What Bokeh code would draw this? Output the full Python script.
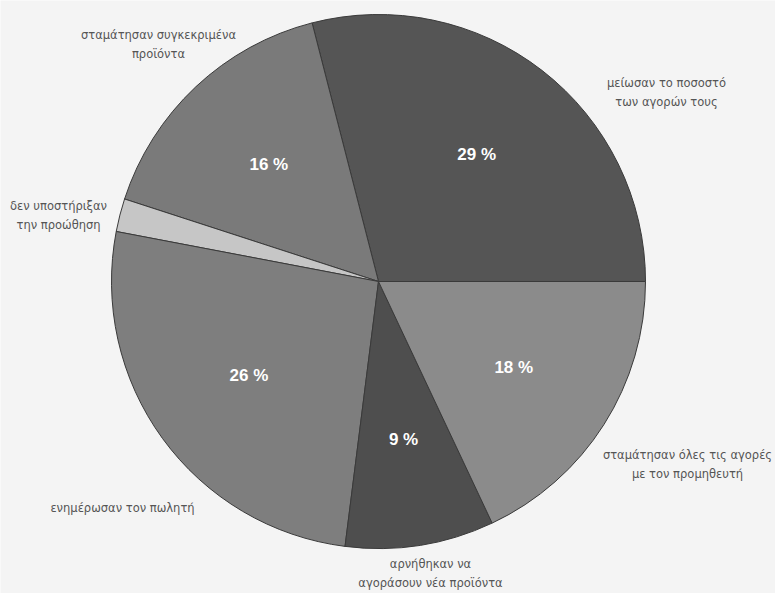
import numpy as np
from bokeh.plotting import figure
from bokeh.models import ColumnDataSource, Range1d
from bokeh.core.properties import value
from bokeh.embed import file_html
from bokeh.resources import INLINE

# ---- data ----
categories = [
    "μείωσαν το ποσοστό\nτων αγορών τους",
    "σταμάτησαν συγκεκριμένα\nπροϊόντα",
    "δεν υποστήριξαν\nτην προώθηση",
    "ενημέρωσαν τον πωλητή",
    "αρνήθηκαν να\nαγοράσουν νέα προϊόντα",
    "σταμάτησαν όλες τις αγορές\nμε τον προμηθευτή",
]
percents = [29, 16, 2, 26, 9, 18]
show_pct = [True, True, False, True, True, True]
colors = ["#555555", "#7a7a7a", "#c6c6c6", "#7e7e7e", "#4e4e4e", "#8b8b8b"]

# ---- layout (pixel space, y measured from top) ----
W, H = 775, 593
cx, cy, R = 378, 281, 267
label_xy = [(666, 92), (158, 44), (58, 215), (122, 507), (430, 573), (687, 464)]

p = figure(width=W, height=H, output_backend="svg", toolbar_location=None,
           x_range=Range1d(0, W), y_range=Range1d(0, H), min_border=0)
p.axis.visible = False
p.grid.visible = False
p.outline_line_color = None
p.background_fill_color = "#f4f4f4"
p.border_fill_color = "#f4f4f4"

vals = np.array(percents, dtype=float)
ends = np.cumsum(vals) / vals.sum() * 2 * np.pi
starts = np.concatenate([[0.0], ends[:-1]])
mids = (starts + ends) / 2

src = ColumnDataSource(dict(start=starts, end=ends, color=colors))
p.wedge(x=cx, y=H - cy, radius=R, start_angle="start", end_angle="end",
        fill_color="color", line_color="#3a3a3a", line_width=1, source=src)

# percentage labels inside slices
rl = 0.6 * R
px, py, pt = [], [], []
for m, v, s in zip(mids, percents, show_pct):
    if s:
        px.append(cx + rl * np.cos(m))
        py.append(H - cy + rl * np.sin(m))
        pt.append(f"{v} %")
p.text(x=px, y=py, text=pt, text_color="white", text_font=value("Liberation Sans"),
       text_font_style="bold", text_font_size="17px", text_align="center",
       text_baseline="middle")

# category labels outside
lx = [x for x, _ in label_xy]
ly = [H - y for _, y in label_xy]
p.text(x=lx, y=ly, text=categories, text_color="#555555", text_font=value("DejaVu Sans"),
       text_font_size="11.5px", text_align="center", text_baseline="middle",
       text_line_height=1.4)

open("out.html", "w").write(file_html(p, INLINE))
